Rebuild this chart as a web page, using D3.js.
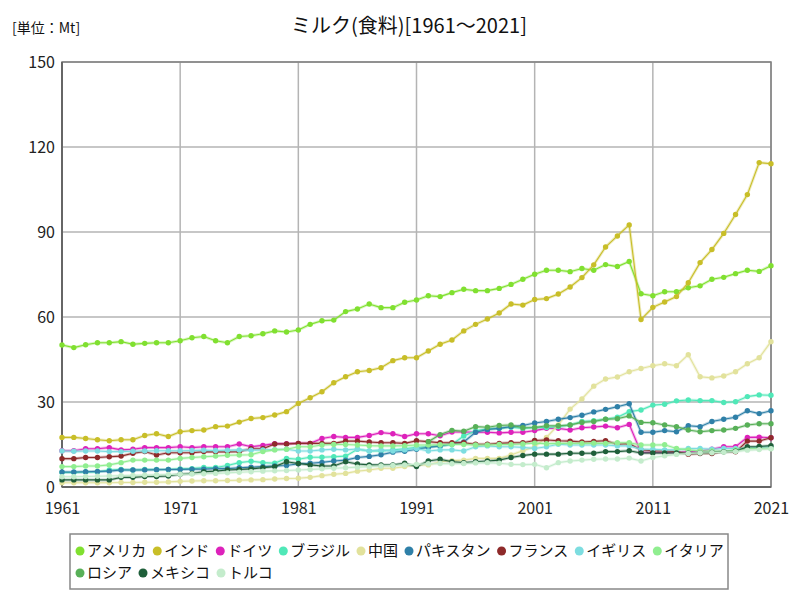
<!DOCTYPE html>
<html><head><meta charset="utf-8">
<script src="https://cdn.jsdelivr.net/npm/d3@7"></script>
<style>
body{margin:0;background:#fff;}
text{font-family:"Noto Sans CJK JP","Noto Sans",sans-serif;}
</style></head>
<body><svg id="c" width="800" height="600"></svg>
<script>
const years = d3.range(1961, 2022);
const seriesNames = ["アメリカ","インド","ドイツ","ブラジル","中国","パキスタン","フランス","イギリス","イタリア","ロシア","メキシコ","トルコ"];
const seriesColors = ["#80e030","#c8be28","#dd22bb","#50e8b8","#e2e29c","#2f80a8","#8e2a2a","#7ddde0","#90ee90","#58b058","#1f5f3a","#c4eccc"];
const xTicks = [1961,1971,1981,1991,2001,2011,2021];
const yTicks = [0,30,60,90,120,150];

const usa = [50.1,49.2,50.2,50.9,50.9,51.3,50.4,50.7,50.9,50.9,51.6,52.7,53.1,51.6,50.9,53.1,53.4,54.1,55.1,54.7,55.4,57.4,58.7,58.9,61.9,62.8,64.6,63.3,63.3,65.2,66.0,67.5,67.2,68.6,69.8,69.3,69.3,70.1,71.5,73.3,75.1,76.5,76.5,76.0,77.1,76.5,78.5,77.8,79.6,68.2,67.5,68.9,68.9,70.3,71.0,73.3,74.0,75.3,76.5,76.1,78.1];
const india = [17.5,17.5,17.1,16.7,16.3,16.7,16.7,18.2,18.8,17.8,19.5,19.9,20.1,21.3,21.5,22.9,24.2,24.5,25.4,26.6,29.5,31.5,33.6,36.8,38.9,40.7,41.1,42.1,44.6,45.6,45.6,48.0,50.4,51.9,55.1,57.4,59.3,61.4,64.6,64.2,66.2,66.5,68.1,70.6,73.9,78.4,84.7,88.6,92.5,59.1,63.4,65.3,67.2,72.1,79.2,83.8,89.5,96.2,103.2,114.5,114.1];
const germany = [12.8,12.8,13.5,13.5,13.9,13.1,13.3,13.9,13.9,13.9,14.2,13.9,14.2,14.2,14.2,15.2,14.2,14.7,15.3,15.3,15.4,15.4,17.1,17.8,17.5,17.5,18.2,19.2,18.8,17.8,18.8,18.8,18.1,19.4,19.4,19.3,19.3,19.1,19.3,19.3,19.9,20.7,20.7,20.1,20.9,21.2,21.5,20.9,22.1,12.2,12.2,12.2,12.1,12.5,12.7,13.3,14.2,14.2,17.5,17.6,17.4];
const brazil = [5.1,5.1,5.3,5.3,6.0,6.2,6.0,6.2,6.2,6.2,6.4,6.5,6.9,6.9,7.6,8.6,9.1,8.6,8.4,10.1,9.8,10.5,10.5,10.7,10.9,13.3,12.7,12.7,13.1,13.5,14.0,14.2,14.5,15.0,18.0,19.8,20.5,20.7,21.1,20.7,21.0,21.0,21.3,21.9,23.1,23.4,23.9,24.6,26.6,27.2,28.9,29.2,30.4,30.7,30.5,30.5,29.8,30.1,31.9,32.5,32.4];
const china = [1.5,1.5,1.5,1.5,1.5,1.6,1.6,1.7,1.7,1.8,2.0,2.1,2.2,2.2,2.3,2.4,2.5,2.6,2.8,3.0,3.1,3.4,4.0,4.5,4.8,5.6,6.0,6.6,6.6,7.2,7.8,7.8,8.9,9.3,9.5,10.1,10.1,10.1,11.3,12.8,14.2,17.5,21.9,27.5,31.1,35.6,38.1,38.8,40.7,41.8,42.8,43.5,42.8,46.7,38.9,38.5,39.2,40.7,43.5,45.6,51.3];
const pakistan = [5.3,5.3,5.4,5.5,5.6,6.0,6.0,6.0,6.1,6.2,6.2,6.3,6.3,6.5,6.5,6.8,7.0,7.2,7.4,7.6,8.2,8.4,8.7,9.2,9.5,10.4,10.8,11.4,12.3,12.6,13.3,14.0,14.5,15.3,15.9,19.3,20.3,20.7,21.3,21.7,22.6,23.1,23.9,24.5,25.3,26.5,27.4,28.3,29.4,19.3,19.3,19.9,19.5,21.6,21.3,23.1,23.9,24.6,26.9,25.9,26.9];
const france = [10.0,10.0,10.4,10.4,10.7,10.9,11.9,12.5,11.3,12.1,12.1,12.1,12.5,12.4,12.4,12.5,13.5,13.5,15.2,15.2,15.4,15.4,15.4,15.4,16.2,16.2,15.9,15.6,15.6,15.4,16.3,16.0,15.6,15.6,15.6,15.1,15.1,15.4,15.6,15.6,16.4,16.6,16.3,16.2,15.9,16.1,16.3,15.1,15.3,13.1,12.8,12.7,12.5,11.6,11.8,11.8,12.5,12.4,16.2,16.2,17.4];
const uk = [12.7,12.6,12.7,12.7,12.5,12.5,12.6,12.7,12.8,12.8,12.8,12.9,13.0,12.9,13.0,13.1,13.0,13.1,13.2,13.3,12.7,12.7,13.1,13.3,13.1,13.4,12.7,13.1,12.7,13.1,13.6,12.7,13.1,13.1,12.7,14.2,14.5,14.2,14.2,14.0,13.6,14.2,15.1,14.8,14.8,14.8,14.8,14.5,14.5,13.3,13.3,13.1,13.1,13.6,13.6,13.3,13.6,13.6,13.6,14.1,14.1];
const italy = [7.2,7.2,7.4,7.4,7.8,8.6,9.5,9.5,9.5,9.5,10.1,10.4,10.7,10.9,11.2,11.3,11.4,12.5,13.1,13.3,14.2,14.2,14.8,15.0,15.0,14.8,14.6,14.5,14.5,14.6,14.8,14.8,14.9,15.0,15.0,14.8,14.8,15.0,15.0,15.2,15.5,15.3,15.4,15.4,15.4,15.5,15.4,15.6,15.6,14.8,14.8,14.9,13.6,13.1,12.7,12.7,12.5,13.1,13.6,13.6,13.6];
const russia = [null,null,null,null,null,null,null,null,null,null,null,null,null,null,null,null,null,null,null,null,null,null,null,null,null,null,null,null,null,null,null,16.0,18.5,20.0,19.7,21.3,21.1,21.7,21.9,20.9,21.0,21.6,21.6,21.9,22.8,23.1,23.9,24.1,25.1,22.8,22.7,21.9,21.3,20.1,19.5,19.9,20.1,20.7,21.9,22.3,22.3];
const mexico = [2.5,2.5,2.5,2.5,2.5,3.4,3.4,3.7,3.7,3.9,4.5,4.8,5.4,5.6,6.0,6.2,6.4,6.8,7.2,8.9,8.3,7.8,7.4,7.4,8.9,8.1,7.8,7.8,7.8,8.4,7.2,9.2,9.8,8.9,8.6,8.9,9.2,9.5,10.4,11.1,11.6,11.6,11.6,11.9,11.9,11.9,12.5,12.5,12.8,12.0,12.0,12.0,12.0,11.9,12.0,12.2,12.4,12.6,14.2,14.3,14.6];
const turkey = [3.6,3.6,3.7,3.8,3.9,4.0,4.1,4.2,4.3,4.4,4.5,4.6,4.7,4.8,5.0,5.2,5.4,5.6,5.7,5.8,6.0,6.2,6.4,6.6,6.8,7.0,7.2,7.4,7.6,7.8,8.0,8.2,8.3,8.2,8.3,8.5,8.6,8.4,8.0,7.9,8.0,6.8,8.6,9.2,9.5,9.8,9.9,9.9,10.2,9.2,10.4,11.0,11.5,11.8,12.0,12.1,12.3,12.5,13.0,13.2,13.5];

const seriesValues = [usa,india,germany,brazil,china,pakistan,france,uk,italy,russia,mexico,turkey];

const svg = d3.select("#c");
const L=62, R=771, T=62, B=487;
const x = d3.scaleLinear().domain([1961,2021]).range([L,R]);
const y = d3.scaleLinear().domain([0,150]).range([B,T]);

// grid
const g = svg.append("g");
g.selectAll("line.gx").data(xTicks).join("line")
  .attr("x1",d=>x(d)).attr("x2",d=>x(d)).attr("y1",T).attr("y2",B)
  .attr("stroke","#b4b4b4").attr("stroke-width",1.5);
g.selectAll("line.gy").data(yTicks).join("line")
  .attr("x1",L).attr("x2",R).attr("y1",d=>y(d)).attr("y2",d=>y(d))
  .attr("stroke","#b4b4b4").attr("stroke-width",1.5);
svg.append("rect").attr("x",L).attr("y",T).attr("width",R-L).attr("height",B-T)
  .attr("fill","none").attr("stroke","#808080").attr("stroke-width",1.5);
svg.append("line").attr("x1",L).attr("x2",L).attr("y1",T).attr("y2",B).attr("stroke","#666").attr("stroke-width",2);
svg.append("line").attr("x1",L).attr("x2",R).attr("y1",B).attr("y2",B).attr("stroke","#666").attr("stroke-width",2);

// axes labels
const yAxis = d3.axisLeft(y).tickValues(yTicks).tickSize(0).tickPadding(7);
const ya = svg.append("g").attr("transform",`translate(${L},0)`).call(yAxis);
ya.select(".domain").remove();
ya.selectAll("text").attr("font-size",16).attr("fill","#222").attr("font-family","'Noto Sans CJK JP',sans-serif");
const xAxis = d3.axisBottom(x).tickValues(xTicks).tickSize(0).tickPadding(16).tickFormat(d3.format("d"));
const xa = svg.append("g").attr("transform",`translate(0,${B})`).call(xAxis);
xa.select(".domain").remove();
xa.selectAll("text").attr("font-size",16).attr("fill","#222").attr("font-family","'Noto Sans CJK JP',sans-serif");

// lines
const line = d3.line().defined(d=>d[1]!=null).x(d=>x(d[0])).y(d=>y(d[1]));
seriesValues.forEach((vals,i)=>{
  const pts = years.map((yr,k)=>[yr,vals[k]]);
  const col = seriesColors[i];
  const sg = svg.append("g");
  sg.append("path").attr("d",line(pts)).attr("fill","none").attr("stroke",col).attr("stroke-width",3).attr("stroke-opacity",0.3);
  sg.append("path").attr("d",line(pts)).attr("fill","none").attr("stroke",col).attr("stroke-width",1.1);
  sg.selectAll("circle").data(pts.filter(d=>d[1]!=null)).join("circle")
    .attr("cx",d=>x(d[0])).attr("cy",d=>y(d[1])).attr("r",2.7).attr("fill",col);
});

// titles
svg.append("text").attr("x",409).attr("y",33).attr("text-anchor","middle").attr("font-size",20).attr("fill","#111")
  .text("ミルク(食料)[1961～2021]");
svg.append("text").attr("x",12).attr("y",33).attr("font-size",14).attr("fill","#111").text("[単位：Mt]");

// legend
svg.append("rect").attr("x",70).attr("y",534).attr("width",658).attr("height",55)
  .attr("fill","#fff").attr("stroke","#888").attr("stroke-width",1.5);
const rows = [[0,1,2,3,4,5,6,7,8],[9,10,11]];
rows.forEach((row,ri)=>{
  let cx = 80;
  const cy = ri===0 ? 551 : 573;
  row.forEach(i=>{
    svg.append("circle").attr("cx",cx).attr("cy",cy).attr("r",4.5).attr("fill",seriesColors[i]);
    const t = svg.append("text").attr("x",cx+7).attr("y",cy+5).attr("font-size",15).attr("fill","#111").text(seriesNames[i]);
    cx += 7 + t.node().getComputedTextLength() + 11;
  });
});
</script></body></html>
